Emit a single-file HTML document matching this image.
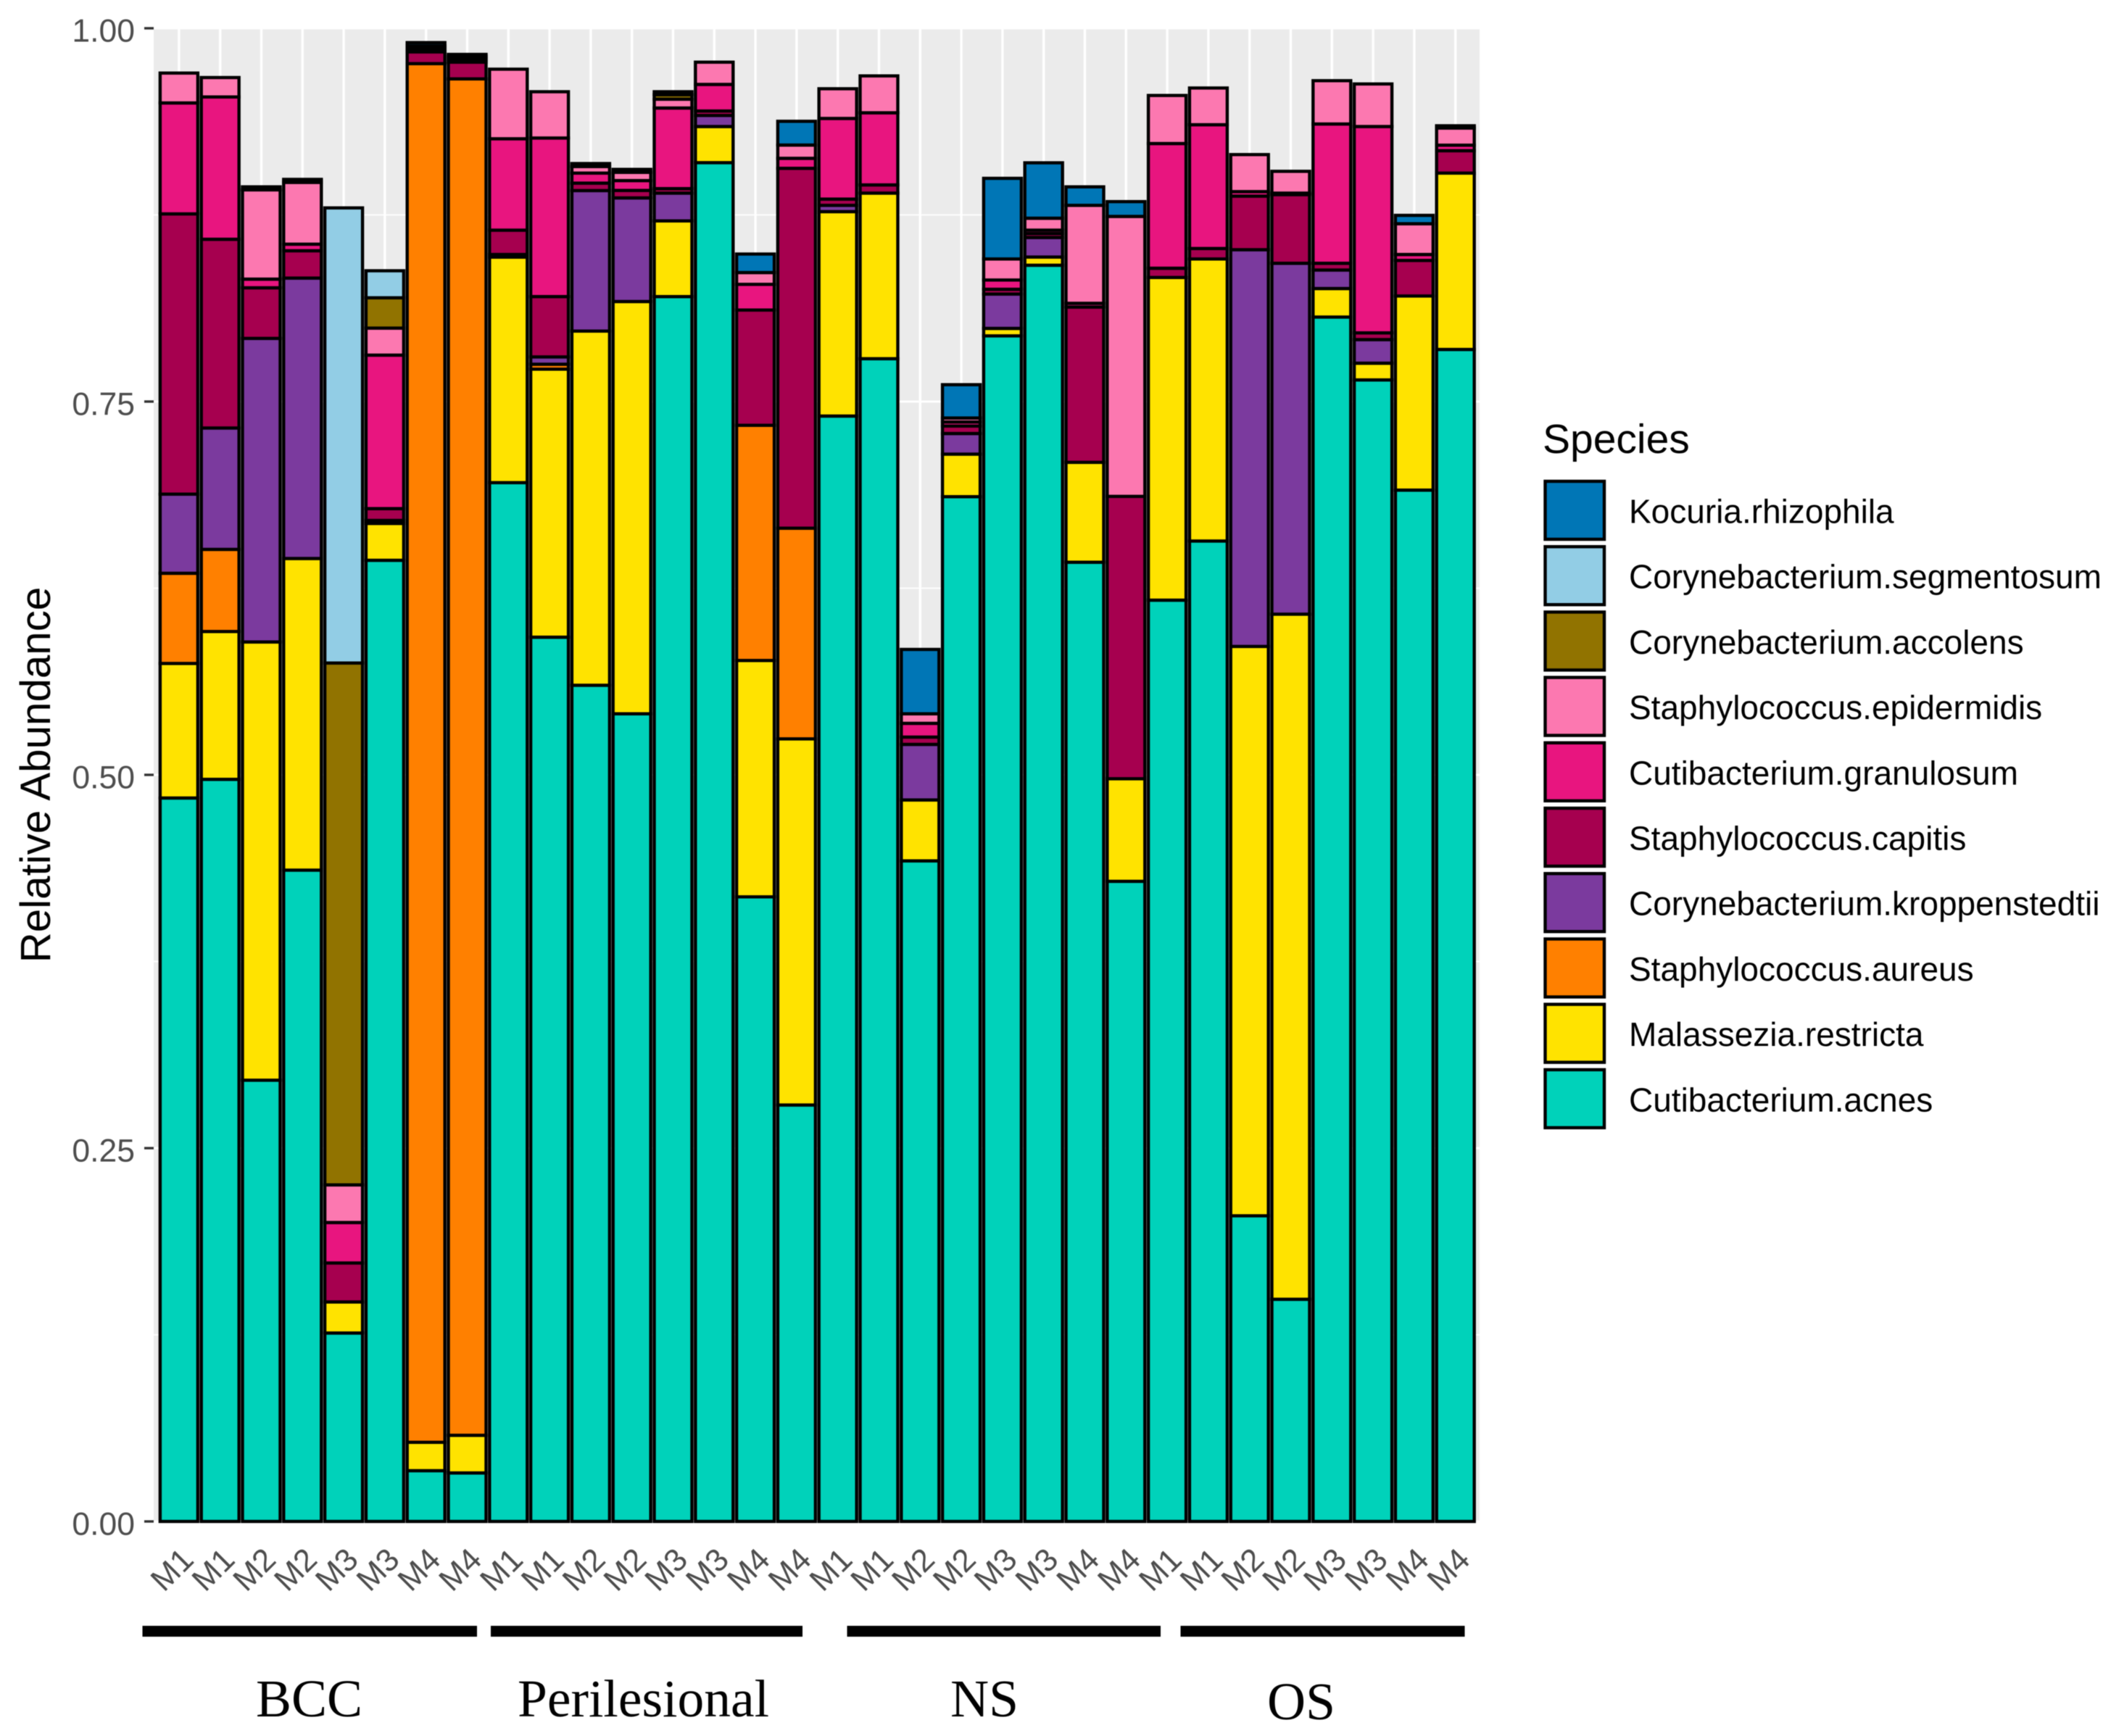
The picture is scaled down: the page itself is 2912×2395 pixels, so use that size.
<!DOCTYPE html>
<html lang="en">
<head>
<meta charset="utf-8">
<title>Relative Abundance by Species</title>
<style>
html,body{margin:0;padding:0;background:#fff;width:2912px;height:2395px;overflow:hidden}
svg{display:block;font-family:"Liberation Sans",sans-serif;filter:blur(0.6px)}
</style>
</head>
<body>
<svg id="chart" xmlns="http://www.w3.org/2000/svg" width="2912" height="2395" viewBox="0 0 2912 2395">
  <rect x="212" y="39" width="1829" height="2060" fill="#EBEBEB"/>
  <g id="grid"></g>
  <g id="bars"></g>
  <g id="y-axis"></g>
  <g id="x-axis"></g>
  <text transform="translate(69 1069) rotate(-90)" text-anchor="middle" font-size="58.3" fill="#000">Relative Abundance</text>

  <rect x="196.5" y="2243" width="461.5" height="15" fill="#000"/>
  <rect x="677" y="2243" width="430" height="15" fill="#000"/>
  <rect x="1168.5" y="2243" width="432.5" height="15" fill="#000"/>
  <rect x="1628.5" y="2243" width="392" height="15" fill="#000"/>
  <text x="353" y="2368" font-family="'Liberation Serif',serif" font-size="73.5" fill="#000">BCC</text>
  <text x="714" y="2368" font-family="'Liberation Serif',serif" font-size="73.5" fill="#000">Perilesional</text>
  <text x="1311" y="2368" font-family="'Liberation Serif',serif" font-size="73.5" fill="#000">NS</text>
  <text x="1748" y="2372" font-family="'Liberation Serif',serif" font-size="73.5" fill="#000">OS</text>

  <g id="legend">
    <text x="2128" y="625" font-size="57" fill="#000">Species</text>
  </g>
</svg>
<script>
const categories = ["M1","M1","M2","M2","M3","M3","M4","M4","M1","M1","M2","M2","M3","M3","M4","M4","M1","M1","M2","M2","M3","M3","M4","M4","M1","M1","M2","M2","M3","M3","M4","M4"];
const yTickValues = [0, 0.25, 0.5, 0.75, 1];
const yTickLabels = ["0.00", "0.25", "0.50", "0.75", "1.00"];
const yMinorTicks = [0.125, 0.375, 0.625, 0.875];

const speciesNames = ["Cutibacterium.acnes","Malassezia.restricta","Staphylococcus.aureus","Corynebacterium.kroppenstedtii","Staphylococcus.capitis","Cutibacterium.granulosum","Staphylococcus.epidermidis","Corynebacterium.accolens","Corynebacterium.segmentosum","Kocuria.rhizophila"];
const speciesColors = ["#00D2BA","#FFE300","#FF8000","#7B3A9E","#A6004F","#E8157F","#FC78B0","#917300","#92CDE5","#0076B6"];

const acnes = [.4845,.497,.2955,.4362,.1262,.6437,.034,.0325,.6957,.5922,.56,.5409,.8203,.91,.4183,.2789,.7403,.7787,.4424,.6863,.794,.8413,.6424,.4287,.617,.6566,.2047,.1488,.8066,.7645,.6907,.7849];
const restricta = [.0901,.099,.2935,.2087,.0208,.0247,.019,.0252,.151,.1795,.2372,.2761,.0507,.0242,.1583,.2452,.1369,.1109,.0408,.0285,.005,.0055,.0669,.0687,.2161,.1889,.3813,.4588,.0191,.0112,.13,.1181];
const aureus = [.0604,.055,0,0,0,0,.9233,.9084,0,.0033,0,0,0,0,.1575,.1411,0,0,0,0,0,0,0,0,0,0,0,0,0,0,0,0];
const kroppenstedtii = [.053,.0813,.2033,.1878,0,.002,0,0,.0018,.0049,.0941,.0694,.0186,.0074,0,0,.0042,0,.0372,.0138,.023,.0131,0,0,0,0,.2657,.235,.0124,.0158,0,0];
const capitis = [.1877,.1264,.0339,.0183,.0261,.0079,.0079,.0112,.0163,.0404,.005,.005,.003,.003,.0772,.241,.0042,.0055,.0049,.005,.0032,.0026,.104,.1891,.0062,.007,.0359,.046,.0045,.0045,.0238,.015];
const granulosum = [.0743,.0953,.0058,.0044,.0271,.1028,.002,.002,.0612,.1062,.0067,.0066,.054,.0178,.0172,.0067,.054,.0483,.0092,.0027,.0062,.0023,.0025,0,.0835,.0829,.003,.001,.0933,.1382,.004,.0037];
const epidermidis = [.02,.013,.0598,.0414,.0252,.0181,.002,.002,.0466,.031,.0044,.0055,.0059,.0149,.0079,.0089,.0199,.0247,.0064,.0027,.0141,.008,.0656,.1875,.0322,.0246,.0248,.0146,.029,.0285,.0206,.0115];
const accolens = [0,0,0,0,.3495,.0203,0,0,0,0,0,0,.003,0,0,0,0,0,0,0,0,0,0,0,0,0,0,0,0,0,0,0];
const segmentosum = [0,0,0,0,.3048,.0181,0,0,0,0,0,0,0,0,0,0,0,0,0,0,0,0,0,0,0,0,0,0,0,0,0,0];
const kocuria = [0,0,.002,.002,0,0,.0022,.0012,0,0,.002,.002,.002,0,.0124,.0159,0,0,.0431,.0223,.054,.0371,.0124,.0099,0,0,0,0,0,0,.0056,.0015];

const seriesValues = [acnes, restricta, aureus, kroppenstedtii, capitis, granulosum, epidermidis, accolens, segmentosum, kocuria];

const SVG_NS = "http://www.w3.org/2000/svg";
const PANEL_LEFT = 212.8, BAND_STEP = 56.8, Y_ZERO = 2099, Y_SPAN = 2060, BAR_WIDTH = 52, BAR_STROKE = 4.4;

function xScale(i) { return PANEL_LEFT + (i + 0.6) * BAND_STEP; }
function yScale(v) { return Y_ZERO - Y_SPAN * v; }
function make(tag, attrs) {
  const el = document.createElementNS(SVG_NS, tag);
  for (const k in attrs) el.setAttribute(k, attrs[k]);
  return el;
}

const grid = document.getElementById("grid");
yMinorTicks.forEach(function (v) {
  const line = make("line", { x1: 212, x2: 2041, y1: yScale(v), y2: yScale(v), stroke: "#fff", "stroke-width": 1.8 });
  
  
  grid.appendChild(line);
});
yTickValues.forEach(function (v) {
  const line = make("line", { x1: 212, x2: 2041, y1: yScale(v), y2: yScale(v), stroke: "#fff", "stroke-width": 3 });
  
  
  grid.appendChild(line);
});
categories.forEach(function (c, i) {
  const line = make("line", { x1: xScale(i), x2: xScale(i), y1: 39, y2: 2099, stroke: "#fff", "stroke-width": 3.4 });
  
  
  grid.appendChild(line);
});

const bars = document.getElementById("bars");
categories.forEach(function (c, i) {
  let cumulative = 0;
  seriesValues.forEach(function (values, s) {
    const v = values[i];
    if (!v) return;
    const top = yScale(cumulative + v);
    const bottom = yScale(cumulative);
    const seg = make("rect", {
      x: xScale(i) - BAR_WIDTH / 2, y: top, width: BAR_WIDTH, height: bottom - top,
      fill: speciesColors[s], stroke: "#000", "stroke-width": BAR_STROKE
    });
    
    
    bars.appendChild(seg);
    cumulative += v;
  });
});

const yAxis = document.getElementById("y-axis");
yTickValues.forEach(function (v, i) {
  const tick = make("line", { x1: 199, x2: 212, y1: yScale(v), y2: yScale(v), stroke: "#333", "stroke-width": 3.4 });
  
  
  yAxis.appendChild(tick);
  const label = make("text", { x: 186, y: yScale(v) + 18.5, "text-anchor": "end", "font-size": 44.5, fill: "#4D4D4D" });
  
  
  label.textContent = yTickLabels[i];
  yAxis.appendChild(label);
});

const xAxis = document.getElementById("x-axis");
categories.forEach(function (c, i) {
  const cx = xScale(i) - 10, cy = 2165;
  const label = make("text", {
    x: cx, y: cy, dy: "0.35em", "text-anchor": "middle", "font-size": 44, fill: "#4D4D4D",
    transform: "rotate(-45 " + cx + " " + cy + ")"
  });
  
  
  label.textContent = c;
  xAxis.appendChild(label);
});

const legend = document.getElementById("legend");
for (let k = speciesNames.length - 1, row = 0; k >= 0; k--, row++) {
  const y = 664 + row * 90.2;
  const swatch = make("rect", { x: 2131.5, y: y, width: 81.5, height: 80, fill: speciesColors[k], stroke: "#000", "stroke-width": 4.4 });
  
  
  legend.appendChild(swatch);
  const text = make("text", { x: 2247, y: y + 40 + 17.5, "font-size": 46, fill: "#000" });
  
  
  text.textContent = speciesNames[k];
  legend.appendChild(text);
}
</script>
</body>
</html>
